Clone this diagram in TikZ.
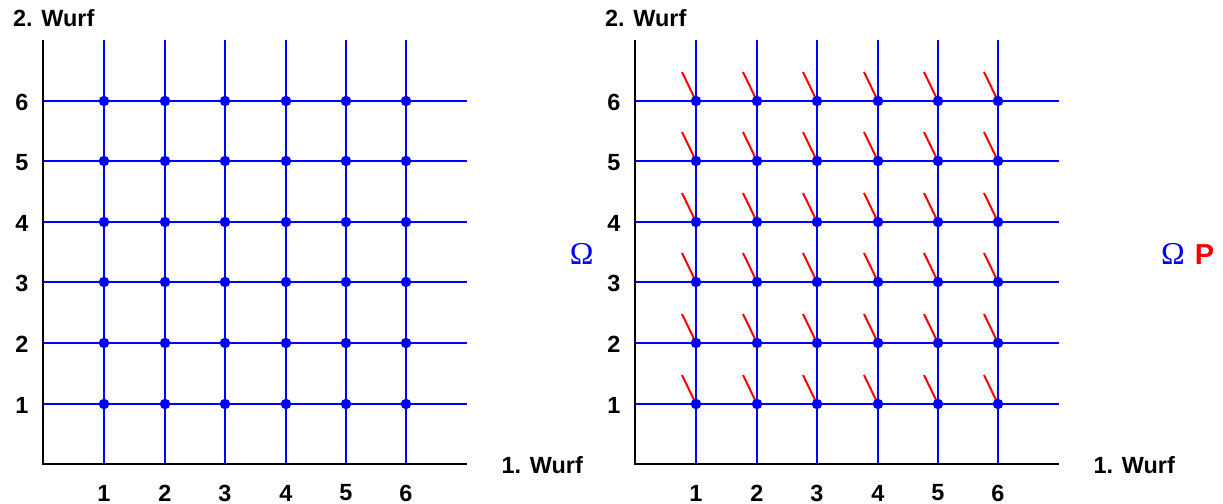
\documentclass[tikz,border=0pt]{standalone}
\usepackage{fontspec}
\setmainfont{Liberation Sans}
\newfontfamily\omegafont{Liberation Serif}
\begin{document}
\begin{tikzpicture}[x=1bp,y=-1bp,
  lab/.style={font=\fontsize{23.5}{27}\selectfont\bfseries, inner sep=0pt},
  dot/.style={circle, fill=blue, draw=none, inner sep=0pt, minimum size=10.5bp},
  gridl/.style={draw=blue, line width=1.05bp},
  axisl/.style={black, line width=2bp},
  arm/.style={red, line width=2bp},
  omg/.style={font=\fontsize{32}{36}\selectfont\omegafont, text=blue, inner sep=0pt},
  pl/.style={font=\fontsize{29}{32}\selectfont\bfseries, text=red, inner sep=0pt}]
\useasboundingbox (0,0) rectangle (1223,504);
\foreach \ox/\p in {0/L,592/R}{
  % grid lines
  \foreach \i/\cx/\ry in {1/104/404,2/165/343,3/225/282,4/286/222,5/346/161,6/406/101}{
    \draw[gridl] (\ox+\cx,40) -- (\ox+\cx,464);
    \draw[gridl] (\ox+43,\ry) -- (\ox+467,\ry);
    \node[lab] (\p x\i) at (\ox+\cx,493) {\i};
    \node[lab] (\p y\i) at (\ox+22,\ry+1.5) {\i};
  }
  \draw[axisl] (\ox+43,40) -- (\ox+43,464) -- (\ox+467,464);
  \node[lab, anchor=base west] (\p t2) at (\ox+13,26.5) {2. Wurf};
  \node[lab, anchor=base west] (\p t1) at (\ox+501.5,473.3) {1. Wurf};
}
% red arms (right panel)
\foreach \i/\cx in {1/104,2/165,3/225,4/286,5/346,6/406}{
  \foreach \j/\ry in {1/404,2/343,3/282,4/222,5/161,6/101}{
    \coordinate (a\i\j) at (592+\cx-14,\ry-29);
    \coordinate (c\i\j) at (592+\cx,\ry);
    \draw[arm] (a\i\j) -- (c\i\j);
  }
}
% dots
\foreach \ox/\p in {0/L,592/R}{
  \foreach \i/\cx in {1/104,2/165,3/225,4/286,5/346,6/406}{
    \foreach \j/\ry in {1/404,2/343,3/282,4/222,5/161,6/101}{
      \node[dot] (\p d\i\j) at (\ox+\cx,\ry) {};
    }
  }
}
\node[omg, anchor=base] (om1) at (581.7,264.3) {Ω};
\node[omg, anchor=base] (om2) at (1173,264.3) {Ω};
\node[pl, anchor=base] (P) at (1204.6,264.3) {P};
\end{tikzpicture}
\end{document}
